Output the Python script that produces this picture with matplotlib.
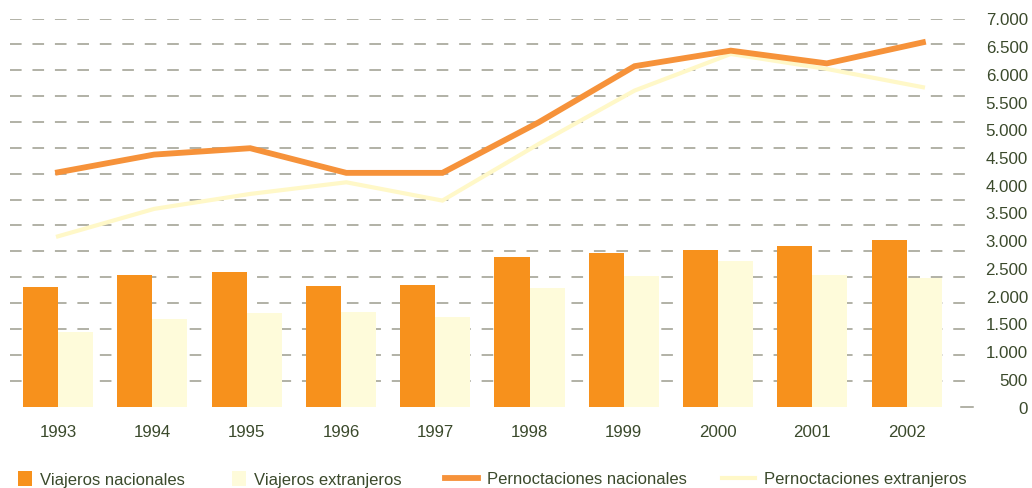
import matplotlib
matplotlib.use("Agg")
import matplotlib.pyplot as plt
import numpy as np
from matplotlib.lines import Line2D
from matplotlib.patches import Patch

plt.rcParams['font.family'] = ['Liberation Sans', 'DejaVu Sans']

# ---- data ----
years = ['1993', '1994', '1995', '1996', '1997', '1998', '1999', '2000', '2001', '2002']
viajeros_nacionales = [2160, 2370, 2430, 2175, 2185, 2690, 2775, 2830, 2895, 3005]
viajeros_extranjeros = [1340, 1580, 1690, 1705, 1610, 2140, 2350, 2620, 2370, 2315]
pernoct_nacionales = [4225, 4545, 4660, 4215, 4215, 5125, 6140, 6420, 6190, 6570]
pernoct_extranjeros = [3070, 3565, 3835, 4045, 3715, 4735, 5700, 6360, 6090, 5760]
ytick_values = list(range(0, 7001, 500))
ytick_labels = ['0', '500', '1.000', '1.500', '2.000', '2.500', '3.000', '3.500',
                '4.000', '4.500', '5.000', '5.500', '6.000', '6.500', '7.000']
legend_labels = ['Viajeros nacionales', 'Viajeros extranjeros',
                 'Pernoctaciones nacionales', 'Pernoctaciones extranjeros']

# ---- style ----
c_orange_bar = '#F7911C'
c_pale_bar = '#FEFBDA'
c_orange_line = '#F6923A'
c_pale_line = '#FFF8C8'
c_grid = '#9C9C8E'
c_text = '#3B4A2C'

W, H = 1032, 489
fig = plt.figure(figsize=(W / 100, H / 100), dpi=100)
x_left, x_right = 10, 973
y_top, y_bot = 19.5, 407.5
ax = fig.add_axes([x_left / W, 1 - y_bot / H, (x_right - x_left) / W, (y_bot - y_top) / H])

x = np.arange(len(years))
bw = 0.372
ax.set_xlim(-0.509, 9.703)
ax.set_ylim(0, 7000)

# dashed gridlines (16 lines spanning the range)
for gv in np.linspace(0, 7000, 16)[1:]:
    ax.axhline(gv, color=c_grid, lw=1.1, dashes=(7.6, 7.1), zorder=0)
# short baseline dash at right
ax.plot([9.58, 9.703], [0, 0], color=c_grid, lw=1.1, zorder=0, clip_on=False)

ax.bar(x - bw / 2, viajeros_nacionales, width=bw, color=c_orange_bar, zorder=2, linewidth=0)
ax.bar(x + bw / 2, viajeros_extranjeros, width=bw, color=c_pale_bar, zorder=2, linewidth=0)

ax.set_xticks(x)
ax.set_xticklabels(years, fontsize=12.2, color=c_text)
ax.tick_params(axis='x', length=0, pad=12.5)

ax.yaxis.tick_right()
ax.set_yticks(ytick_values)
ax.set_yticklabels(ytick_labels, fontsize=12.2, color=c_text)
ax.tick_params(axis='y', length=0, pad=39.6)
for t in ax.get_yticklabels():
    t.set_horizontalalignment('right')

for s in ax.spines.values():
    s.set_visible(False)

# lines on a twin x-scale
ax2 = ax.twiny()
ax2.set_xlim(-0.4995, 9.521)
ax2.set_ylim(0, 7000)
ax2.plot(x, pernoct_extranjeros, color=c_pale_line, lw=3.0, solid_joinstyle='miter', zorder=3)
ax2.plot(x, pernoct_nacionales, color=c_orange_line, lw=4.2, solid_joinstyle='miter', zorder=4)
ax2.set_xticks([])
for s in ax2.spines.values():
    s.set_visible(False)

# legend (four separate entries)
ly = 1 - 480 / H
entries = [
    (Patch(facecolor=c_orange_bar, edgecolor='none'), legend_labels[0], 18),
    (Patch(facecolor=c_pale_bar, edgecolor='none'), legend_labels[1], 232),
    (Line2D([], [], color=c_orange_line, lw=4.2), legend_labels[2], 445),
    (Line2D([], [], color=c_pale_line, lw=3.0), legend_labels[3], 722),
]
for h, lab, px in entries:
    is_patch = isinstance(h, Patch)
    leg = fig.legend([h], [lab], loc='center left', bbox_to_anchor=(px / W, ly),
                     frameon=False, borderpad=0, borderaxespad=0,
                     handlelength=0.85 if is_patch else 2.0,
                     handleheight=1.05 if is_patch else 0.7,
                     handletextpad=0.5, fontsize=12)
    for t in leg.get_texts():
        t.set_color(c_text)

fig.savefig('out.png', dpi=100)
